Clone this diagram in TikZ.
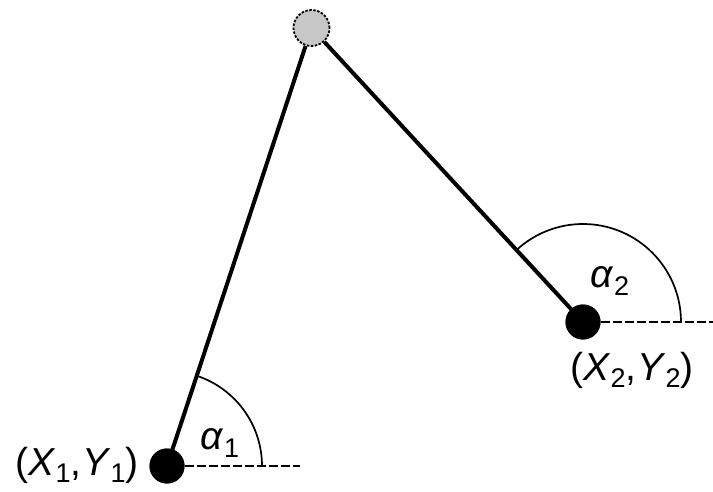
\documentclass[tikz,border=0pt]{standalone}
\usepackage{fontspec}
\setmainfont{Liberation Sans}
\newcommand{\sbs}[1]{\raisebox{-0.35ex}{\fontsize{27}{27}\selectfont #1}}
\begin{document}
\begin{tikzpicture}[x=1pt,y=1pt,
  dot/.style={circle,fill=black,inner sep=0pt,minimum size=35pt},
  topdot/.style={circle,fill=black!22,draw=black,dash pattern=on 2.5pt off 1.5pt,line width=1.8pt,inner sep=0pt,minimum size=36pt},
  bar/.style={line width=4pt},
  ang/.style={line width=1.7pt},
  ref/.style={line width=1.2pt,dash pattern=on 9pt off 3pt},
  lbl/.style={font=\fontsize{39}{39}\selectfont,inner sep=0pt}]
\useasboundingbox (0,0) rectangle (713,491);
\node[topdot] (t) at (311.5,463) {};
\node[dot] (p1) at (167,25) {};
\node[dot] (p2) at (583,169) {};
\coordinate (e1) at (300,25);
\coordinate (e2) at (713,169);
\draw[bar] (p1.center) -- (t);
\draw[bar] (p2.center) -- (t);
\draw[ref] (p1) -- (e1);
\draw[ref] (p2) -- (e2);
\draw[ang] ([xshift=95pt]p1.center) arc[start angle=0,end angle=71.8,radius=95pt];
\draw[ang] ([xshift=98pt]p2.center) arc[start angle=0,end angle=132.8,radius=98pt];
\node[dot] at (p1) {};
\node[dot] at (p2) {};
\node[lbl] (a1) at (220,48) {\textit{α}\sbs{1}};
\node[lbl] (a2) at (610,210) {\textit{α}\sbs{2}};
\node[lbl] (l1) at (77,26) {(\textit{X}\sbs{1},\kern1pt\textit{Y}\sbs{1})};
\node[lbl] (l2) at (632,121) {(\textit{X}\sbs{2},\kern1pt\textit{Y}\sbs{2})};
\end{tikzpicture}
\end{document}
